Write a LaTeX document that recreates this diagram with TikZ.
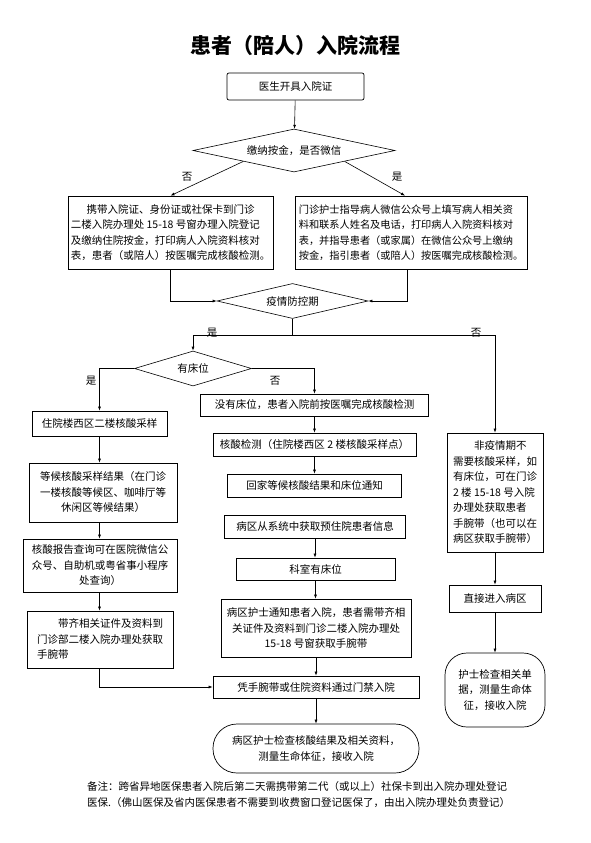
\documentclass[tikz,border=0pt]{standalone}
\usepackage{fontspec}
\setmainfont{Noto Sans CJK SC}
\usetikzlibrary{arrows.meta,shapes.geometric}

\begin{document}
\begin{tikzpicture}[
  x=1pt, y=-1pt,
  font=\fontsize{10.5}{15.5}\selectfont,
  box/.style={draw, line width=0.7pt, inner sep=2pt, align=center},
  decision/.style={draw, diamond, line width=0.6pt, inner sep=0pt, align=center},
  terminal/.style={box, rounded corners=#1},
  terminal/.default=20pt,
  flow/.style={-{Latex[length=4pt,width=3pt]}, line width=0.6pt},
  link/.style={line width=0.6pt},
  tag/.style={inner sep=1pt},
]
\useasboundingbox (0,0) rectangle (591,843);

% title
\node[font=\fontsize{21}{25}\selectfont\bfseries] (title) at (295,45) {患者（陪人）入院流程};

% top part
\node[box, rounded corners=2pt, minimum width=137pt, minimum height=27pt] (cert) at (295.5,86.5) {医生开具入院证};
\node[decision, minimum width=202pt, minimum height=43pt, aspect=4.7] (pay) at (294,150.5) {缴纳按金，是否微信};
\node[box, minimum width=205pt, minimum height=73pt, align=left, inner sep=1pt] (counter) at (170.5,232.5)
  {\hspace*{1.5em}携带入院证、身份证或社保卡到门诊\\二楼入院办理处 15-18 号窗办理入院登记\\及缴纳住院按金，打印病人入院资料核对\\表，患者（或陪人）按医嘱完成核酸检测。};
\node[box, minimum width=232pt, minimum height=73pt, align=left, font=\fontsize{10.2}{15.5}\selectfont] (wechat) at (411,232.5)
  {门诊护士指导病人微信公众号上填写病人相关资\\料和联系人姓名及电话，打印病人入院资料核对\\表，并指导患者（或家属）在微信公众号上缴纳\\按金，指引患者（或陪人）按医嘱完成核酸检测。};
\node[decision, minimum width=151pt, minimum height=35pt, aspect=4.3] (epi) at (292.5,301) {疫情防控期};
\node[decision, minimum width=117pt, minimum height=35pt, aspect=3.3] (bed) at (193,368.5) {有床位};

% left column
\node[box, minimum width=135pt, minimum height=25pt] (swab) at (99.5,423.5) {住院楼西区二楼核酸采样};
\node[box, minimum width=148pt, minimum height=59pt] (wait) at (103,492.5)
  {等候核酸采样结果（在门诊\\一楼核酸等候区、咖啡厅等\\休闲区等候结果）};
\node[box, minimum width=154pt, minimum height=53pt] (report) at (100,565.5)
  {核酸报告查询可在医院微信公\\众号、自助机或粤省事小程序\\处查询）};
\node[box, minimum width=146pt, minimum height=57pt, align=left] (band) at (100,639.5)
  {\hspace*{2em}带齐相关证件及资料到\\门诊部二楼入院办理处获取\\手腕带};

% middle column
\node[box, minimum width=228pt, minimum height=22pt] (nobed) at (314.5,405) {没有床位，患者入院前按医嘱完成核酸检测};
\node[box, minimum width=203pt, minimum height=23pt] (test) at (314.5,444.5) {核酸检测（住院楼西区 2 楼核酸采样点）};
\node[box, minimum width=174pt, minimum height=23pt] (home) at (314.5,485.5) {回家等候核酸结果和床位通知};
\node[box, minimum width=181pt, minimum height=23pt] (info) at (315,526.5) {病区从系统中获取预住院患者信息};
\node[box, minimum width=159pt, minimum height=22pt] (room) at (315.5,569) {科室有床位};
\node[box, minimum width=190pt, minimum height=58pt] (notify) at (316,628)
  {病区护士通知患者入院，患者需带齐相\\关证件及资料到门诊二楼入院办理处\\15-18 号窗获取手腕带};
\node[box, minimum width=206pt, minimum height=22pt] (gate) at (316,687) {凭手腕带或住院资料通过门禁入院};
\node[terminal=24pt, minimum width=206pt, minimum height=49pt] (admit) at (316,748.5)
  {病区护士检查核酸结果及相关资料，\\测量生命体征，接收入院};

% right column
\node[box, minimum width=96pt, minimum height=119pt, align=left] (normal) at (495,492.5)
  {\hspace*{2em}非疫情期不\\需要核酸采样，如\\有床位，可在门诊\\2 楼 15-18 号入院\\办理处获取患者\\手腕带（也可以在\\病区获取手腕带）};
\node[box, minimum width=92pt, minimum height=27pt] (ward) at (495,598.5) {直接进入病区};
\node[terminal=22pt, minimum width=100pt, minimum height=74pt] (check) at (495,690)
  {护士检查相关单\\据，测量生命体\\征，接收入院};

% branch labels
\node[tag] (no1) at (187,177) {否};
\node[tag] (yes1) at (397,177) {是};
\node[tag] (yes2) at (212,333) {是};
\node[tag] (no2) at (476,333) {否};
\node[tag] (yes3) at (91,381) {是};
\node[tag] (no3) at (275,381) {否};

% note
\node[anchor=west, inner sep=0pt, font=\fontsize{10.5}{16}\selectfont] (note1) at (87,787)
  {备注：跨省异地医保患者入院后第二天需携带第二代（或以上）社保卡到出入院办理处登记};
\node[anchor=west, inner sep=0pt, font=\fontsize{10.5}{16}\selectfont] (note2) at (87,803)
  {医保.（佛山医保及省内医保患者不需要到收费窗口登记医保了，由出入院办理处负责登记）};

% connectors
\draw[flow] (cert) -- (pay);
\draw[flow] (pay.south west) -- (counter.north);
\draw[flow] (pay.south east) -- ([xshift=-6pt]wechat.north);
\draw[flow] (counter.south) |- (epi.west);
\draw[flow] ([xshift=-4pt]wechat.south) |- (epi.east);
\draw[link] (epi.south) -- ++(0,16) coordinate (fork);
\draw[flow] (fork) -| (bed.north);
\draw[flow] (fork) -| (normal.north);
\draw[flow] (bed.west) -| (swab.north);
\draw[flow] (bed.east) -| (nobed.north);
\draw[flow] (swab) -- (swab |- wait.north);
\draw[flow] (swab |- wait.south) -- (swab |- report.north);
\draw[flow] (swab |- report.south) -- (swab |- band.north);
\draw[flow] (swab |- band.south) |- (gate.west);
\draw[flow] (nobed) -- (nobed |- test.north);
\draw[flow] (nobed |- test.south) -- (nobed |- home.north);
\draw[flow] (info) -- (info |- room.north);
\draw[flow] (room) -- (room |- notify.north);
\draw[flow] (notify) -- (gate);
\draw[flow] (gate) -- (admit);
\draw[flow] (normal) -- (ward);
\draw[flow] (ward) -- (check);
\end{tikzpicture}
\end{document}
